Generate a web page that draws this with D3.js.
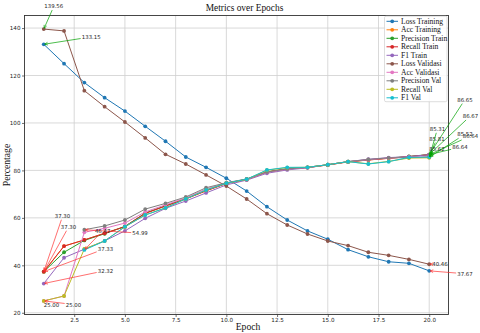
<!DOCTYPE html>
<html><head><meta charset="utf-8">
<script src="https://cdn.jsdelivr.net/npm/d3@7"></script>
<style>body{margin:0;background:#fff} svg{display:block}</style>
</head><body><svg id="c" width="480" height="333"></svg>
<script>
// ---------------- data ----------------
const epochs = [1,2,3,4,5,6,7,8,9,10,11,12,13,14,15,16,17,18,19,20];
const seriesNames = ["Loss Training","Acc Training","Precision Train","Recall Train","F1 Train",
  "Loss Validasi","Acc Validasi","Precision Val","Recall Val","F1 Val"];
const lossTraining   = [133.15,125.0,117.0,110.65,105.0,98.6,92.3,85.65,81.3,76.7,71.3,64.7,59.1,54.5,51.0,46.6,43.6,41.5,40.85,37.67];
const accTraining    = [37.30,48.1,50.7,53.5,56.3,61.9,65.0,68.0,71.4,74.5,76.2,79.3,80.6,81.2,82.3,83.6,84.4,85.1,85.8,86.64];
const precisionTrain = [37.33,45.5,50.5,53.3,56.4,62.0,65.1,68.1,71.6,74.6,76.3,79.4,80.7,81.3,82.4,83.7,84.5,85.2,85.9,86.67];
const recallTrain    = [37.30,48.1,50.7,53.5,56.3,61.9,65.0,68.0,71.4,74.5,76.2,79.3,80.6,81.2,82.3,83.6,84.4,85.1,85.8,86.64];
const f1Train        = [32.32,43.2,46.8,50.3,54.5,59.8,64.0,67.1,70.5,73.9,75.9,78.8,80.2,81.1,82.4,83.7,84.7,85.4,85.8,86.65];
const lossValidasi   = [139.56,138.8,113.6,106.85,100.4,93.7,86.8,82.7,78.1,73.4,67.95,61.75,57.0,53.2,50.25,48.3,45.5,44.2,42.5,40.46];
const accValidasi    = [25.00,27.07,53.9,55.6,57.8,62.5,65.5,68.4,72.2,74.7,76.3,79.2,80.5,81.3,82.4,83.7,84.5,85.2,85.6,85.81];
const precisionVal   = [null,null,54.99,56.6,59.1,63.7,66.1,68.8,72.7,74.8,76.4,79.3,80.6,81.3,82.4,83.7,84.6,85.3,85.4,85.52];
const recallVal      = [25.00,27.07,46.9,50.3,56.2,61.2,64.2,68.0,71.7,74.6,76.2,80.1,81.2,81.3,82.4,83.7,82.8,83.8,85.2,85.31];
const f1Val          = [null,null,46.47,50.25,56.3,61.2,64.2,68.0,71.75,74.6,76.3,80.2,81.3,81.3,82.4,83.7,82.7,83.7,85.5,85.62];
const xTickValues = [2.5,5.0,7.5,10.0,12.5,15.0,17.5,20.0];
const yTickValues = [20,40,60,80,100,120,140];

// ---------------- layout / style ----------------
const valueLists = [lossTraining,accTraining,precisionTrain,recallTrain,f1Train,
  lossValidasi,accValidasi,precisionVal,recallVal,f1Val];
const palette = ["#1f77b4","#ff7f0e","#2ca02c","#d62728","#9467bd","#8c564b","#e377c2","#7f7f7f","#bcbd22","#17becf"];
// text offsets (px) of max / min annotations relative to point: [dx to text left, dy to text centre]
const annoOffsets = {
  "Loss Training":  {max:[38,-7.3],  min:[28,3]},
  "Acc Training":   {max:[33.5,-18.7], min:[11,-56]},
  "Precision Train":{max:[33.5,-38.6], min:[54,-23]},
  "Recall Train":   {max:[23,-7.4],  min:[17,-45]},
  "F1 Train":       {max:[28,-55],   min:[54,-12.8]},
  "Loss Validasi":  {max:[0.5,-23],  min:[3,0]},
  "Acc Validasi":   {max:[0,-18],    min:[0,3.8]},
  "Precision Val":  {max:[28,-23],   min:[48,3.5]},
  "Recall Val":     {max:[0.5,-29],  min:[22,3.8]},
  "F1 Val":         {max:[0,-7.8],   min:[10.6,-19]}
};

const series = seriesNames.map((n,i)=>({name:n, values:valueLists[i], color:palette[i]}));
const P = {left:24.5, right:448.5, top:15.5, bottom:314.5};

const allVals = valueLists.flat().filter(v=>v!=null);
const vmin = d3.min(allVals), vmax = d3.max(allVals);
const xr = d3.extent(epochs), xpad = (xr[1]-xr[0])*0.05, ypad = (vmax-vmin)*0.05;
const x = d3.scaleLinear().domain([xr[0]-xpad, xr[1]+xpad]).range([P.left,P.right]);
const y = d3.scaleLinear().domain([vmin-ypad, vmax+ypad]).range([P.bottom,P.top]);

const svg = d3.select("#c");
svg.append("rect").attr("width",480).attr("height",333).attr("fill","#fff");

// grid
const grid = svg.append("g");
grid.selectAll(".gx").data(xTickValues).join("line")
  .attr("x1",d=>x(d)).attr("x2",d=>x(d)).attr("y1",P.top).attr("y2",P.bottom)
  .attr("stroke","#cfcfcf").attr("stroke-width",0.8);
grid.selectAll(".gy").data(yTickValues).join("line")
  .attr("x1",P.left).attr("x2",P.right).attr("y1",d=>y(d)).attr("y2",d=>y(d))
  .attr("stroke","#cfcfcf").attr("stroke-width",0.8);

// axes
const tickFont = "DejaVu Sans";
const ax = svg.append("g").attr("transform",`translate(0,${P.bottom})`)
  .call(d3.axisBottom(x).tickValues(xTickValues).tickFormat(d3.format(".1f")).tickSize(2.5).tickPadding(1.5));
const ay = svg.append("g").attr("transform",`translate(${P.left},0)`)
  .call(d3.axisLeft(y).tickValues(yTickValues).tickFormat(d3.format("d")).tickSize(2.5).tickPadding(1.5));
[ax,ay].forEach(a=>{
  a.select(".domain").remove();
  a.selectAll("line").attr("stroke","#333").attr("stroke-width",0.7);
  a.selectAll("text").attr("font-family",tickFont).attr("font-size",5.6).attr("fill","#222");
});

// lines
const line = d3.line().defined(d=>d.v!=null).x(d=>x(d.e)).y(d=>y(d.v));
series.forEach(s=>{
  const pts = s.values.map((v,i)=>({e:epochs[i], v}));
  svg.append("path").datum(pts).attr("d",line).attr("fill","none")
    .attr("stroke",s.color).attr("stroke-width",1);
  svg.append("g").selectAll("circle").data(pts.filter(d=>d.v!=null)).join("circle")
    .attr("cx",d=>x(d.e)).attr("cy",d=>y(d.v)).attr("r",1.9).attr("fill",s.color);
});

// spines
svg.append("rect").attr("x",P.left).attr("y",P.top).attr("width",P.right-P.left).attr("height",P.bottom-P.top)
  .attr("fill","none").attr("stroke","#333").attr("stroke-width",0.9);

// annotations
const annG = svg.append("g");
function annotate(px,py,txt,off,color){
  const t = annG.append("text").attr("x",px+off[0]).attr("y",py+off[1]).attr("dy","0.35em")
    .attr("font-family",tickFont).attr("font-size",5.4).attr("fill","#222").text(txt);
  const bb = t.node().getBBox();
  const pad = 1.1;
  const x0=bb.x-pad, x1=bb.x+bb.width+pad, y0=bb.y-pad, y1=bb.y+bb.height+pad;
  const cx = bb.x+bb.width/2, cy = bb.y+bb.height/2;
  if(px>x0 && px<x1 && py>y0 && py<y1) return;
  const dx = px-cx, dy = py-cy;
  let tt = Infinity;
  if(dx>0) tt=Math.min(tt,(x1-cx)/dx); else if(dx<0) tt=Math.min(tt,(x0-cx)/dx);
  if(dy>0) tt=Math.min(tt,(y1-cy)/dy); else if(dy<0) tt=Math.min(tt,(y0-cy)/dy);
  const sx = cx+dx*tt, sy = cy+dy*tt;
  const L = Math.hypot(px-sx,py-sy);
  if(L<1.5) return;
  const ux=(px-sx)/L, uy=(py-sy)/L;
  const ex = px-ux*1.0, ey = py-uy*1.0;
  annG.append("line").attr("x1",sx).attr("y1",sy).attr("x2",ex).attr("y2",ey)
    .attr("stroke",color).attr("stroke-width",0.7);
  const hl=3, hw=1.4;
  const bx=ex-ux*hl, by=ey-uy*hl;
  annG.append("path").attr("d",`M${bx-uy*hw},${by+ux*hw}L${ex},${ey}L${bx+uy*hw},${by-ux*hw}`)
    .attr("fill","none").attr("stroke",color).attr("stroke-width",0.7);
}
series.forEach(s=>{
  const idx = s.values.map((v,i)=>i).filter(i=>s.values[i]!=null);
  const iMax = idx.reduce((a,b)=>s.values[b]>s.values[a]?b:a);
  const iMin = idx.reduce((a,b)=>s.values[b]<s.values[a]?b:a);
  const off = annoOffsets[s.name];
  annotate(x(epochs[iMax]),y(s.values[iMax]),s.values[iMax].toFixed(2),off.max,"#00a000");
  annotate(x(epochs[iMin]),y(s.values[iMin]),s.values[iMin].toFixed(2),off.min,"#ff3030");
});

// labels
const serif = "Liberation Serif";
svg.append("text").attr("x",244.5).attr("y",10.5).attr("text-anchor","middle")
  .attr("font-family",serif).attr("font-size",9.4).attr("fill","#111").text("Metrics over Epochs");
svg.append("text").attr("x",248).attr("y",330).attr("text-anchor","middle")
  .attr("font-family",serif).attr("font-size",9.7).attr("fill","#111").text("Epoch");
svg.append("text").attr("transform",`translate(10,${(P.top+P.bottom)/2}) rotate(-90)`).attr("text-anchor","middle")
  .attr("font-family",serif).attr("font-size",9.7).attr("fill","#111").text("Percentage");

// legend
const lg = svg.append("g");
lg.append("rect").attr("x",384.5).attr("y",16.2).attr("width",62.5).attr("height",85.5).attr("rx",1.5)
  .attr("fill","#fff").attr("fill-opacity",0.85).attr("stroke","#d0d0d0").attr("stroke-width",0.7);
series.forEach((s,i)=>{
  const cy = 21.3 + i*8.5;
  lg.append("line").attr("x1",386.5).attr("x2",398).attr("y1",cy).attr("y2",cy).attr("stroke",s.color).attr("stroke-width",1);
  lg.append("circle").attr("cx",392.2).attr("cy",cy).attr("r",1.9).attr("fill",s.color);
  lg.append("text").attr("x",401).attr("y",cy).attr("dy","0.33em").attr("font-family",serif)
    .attr("font-size",7.6).attr("fill","#111").text(s.name);
});
</script></body></html>
